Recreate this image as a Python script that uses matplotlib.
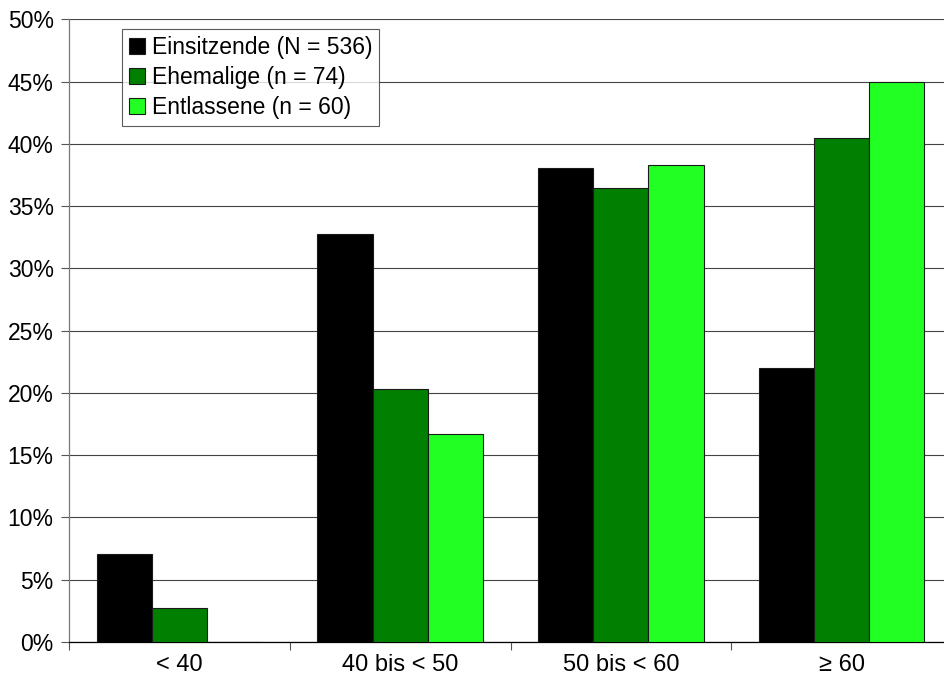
import numpy as np
import matplotlib.pyplot as plt
from matplotlib.ticker import FuncFormatter

plt.rcParams['font.family'] = ['Liberation Sans', 'DejaVu Sans']

# Altersgruppen und Anteile (in %)
categories = ['< 40', '40 bis < 50', '50 bis < 60', '≥ 60']
einsitzende = [7.1, 32.8, 38.1, 22.0]
ehemalige = [2.7, 20.3, 36.5, 40.5]
entlassene = [0.0, 16.7, 38.3, 45.0]
series_labels = ['Einsitzende (N = 536)', 'Ehemalige (n = 74)', 'Entlassene (n = 60)']
colors = ['#000000', '#007f00', '#22ff22']

fig = plt.figure(figsize=(9.44, 6.77), dpi=100)
ax = fig.add_axes([0.0731, 0.0517, 0.9354, 0.9195])

x = np.arange(len(categories))
w = 0.25
for i, (vals, lab, col) in enumerate(zip([einsitzende, ehemalige, entlassene], series_labels, colors)):
    ax.bar(x + (i - 1) * w, vals, width=w, color=col, edgecolor='#1a1a1a',
           linewidth=0.8, label=lab, zorder=3)

ax.set_xlim(-0.5, len(categories) - 0.5)
ax.set_ylim(0, 50)
ax.set_yticks(np.arange(0, 51, 5))
ax.yaxis.set_major_formatter(FuncFormatter(lambda v, p: f'{v:.0f}%'))
ax.yaxis.grid(True, color='#444444', linewidth=0.8, zorder=0)

# Kategorien mittig, Striche an den Grenzen
ax.set_xticks(x)
ax.set_xticklabels(categories)
ax.set_xticks(np.arange(-0.5, len(categories), 1), minor=True)
ax.tick_params(axis='x', which='major', length=0, pad=9, labelsize=17)
ax.tick_params(axis='x', which='minor', length=6, color='#555555', width=0.8)
ax.tick_params(axis='y', length=6, color='#555555', width=0.8, pad=5, labelsize=16.5)

for s in ['top', 'right']:
    ax.spines[s].set_visible(False)
ax.spines['left'].set_color('#777777')
ax.spines['left'].set_linewidth(0.9)
ax.spines['bottom'].set_color('#000000')
ax.spines['bottom'].set_linewidth(0.9)

leg = ax.legend(loc='upper left', bbox_to_anchor=(0.06, 0.985), fontsize=16.5,
                frameon=True, fancybox=False, edgecolor='#333333',
                handlelength=0.7, handleheight=0.7, handletextpad=0.3,
                borderpad=0.3, labelspacing=0.32, borderaxespad=0)
leg.get_frame().set_linewidth(0.8)
leg.set_zorder(5)

fig.savefig('out.png', dpi=100)
